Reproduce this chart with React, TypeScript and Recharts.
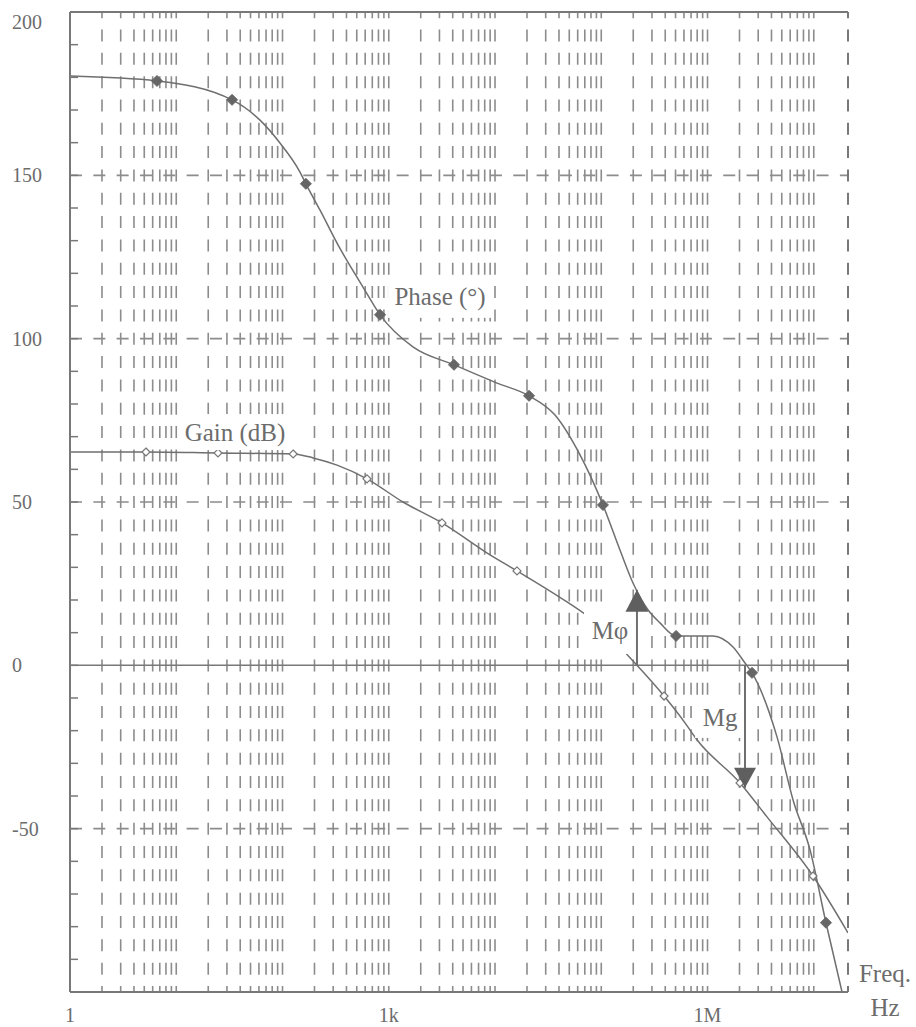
import React from 'react';
import { ComposedChart, Line, Scatter, XAxis, YAxis, ReferenceLine, ReferenceDot } from 'recharts';

// ---- data (frequency in Hz, phase in degrees, gain in dB) ----
const phaseFreq = [1, 6.59, 33.5, 61.4, 94.6, 146, 166, 225, 333, 572, 828, 1690, 4110, 10450, 20900, 36700, 63100, 103700, 150000, 199000, 275000, 357000, 506000, 1127000, 1738000, 2254000, 2624000, 4508000, 6383000, 9226000, 13030000, 18450000];
const phaseDeg = [180.4, 178.9, 173.1, 166.9, 159.9, 151.0, 147.4, 139.4, 128.7, 115.8, 107.3, 97.5, 92.0, 86.4, 82.5, 76.6, 64.4, 49.1, 35.3, 25.2, 17.0, 13.0, 9.0, 9.0, 5.6, 0.7, -2.3, -21.9, -41.2, -56.5, -78.8, -100];
const phaseMarkFreq = [6.59, 33.5, 166, 828, 4110, 20900, 103700, 506000, 2624000, 13030000];
const phaseMarkDeg = [178.9, 173.1, 147.4, 107.3, 92.0, 82.5, 49.1, 9.0, -2.3, -78.8];

const gainFreq = [1, 5.19, 24.7, 126, 194, 326, 624, 1360, 3170, 8970, 16100, 47600, 78300, 216800, 390000, 614000, 796000, 2023000, 3631000, 9840000, 21000000];
const gainDb = [65.3, 65.3, 65.0, 64.7, 63.5, 61.3, 57.1, 50.0, 43.6, 33.8, 28.9, 19.4, 14.5, 0, -9.4, -17.6, -22.8, -36.0, -46.4, -64.5, -81.9];
const gainMarkFreq = [5.19, 24.7, 126, 624, 3170, 16100, 390000, 2023000, 9840000];
const gainMarkDb = [65.3, 65.0, 64.7, 57.1, 43.6, 28.9, -9.4, -36.0, -64.5];

// ---- axes ----
const X_MIN = 1;
const X_MAX = 2.1e7;
const xTicks = [1, 1000, 1000000];
const xTickLabels: Record<number, string> = { 1: '1', 1000: '1k', 1000000: '1M' };
const yTicks = [-100, -90, -80, -70, -60, -50, -40, -30, -20, -10, 0, 10, 20, 30, 40, 50, 60, 70, 80, 90, 100, 110, 120, 130, 140, 150, 160, 170, 180, 190, 200];
const yLabelValues = [200, 150, 100, 50, 0, -50];
const dashedLevels = [150, 100, 50, -50];
const gridDecades = [1, 10, 100, 1000, 10000, 100000, 1000000];
const gridMultipliers = [2, 3, 4, 5, 6, 7, 8, 9, 10];

// ---- annotations ----
const textLabels = [
  { text: 'Phase (°)', f: 3040, v: 112.8, w: 104, h: 42 },
  { text: 'Gain (dB)', f: 35.7, v: 71.4, w: 112, h: 36 },
  { text: 'Mφ', f: 120800, v: 10.8, w: 52, h: 48 },
  { text: 'Mg', f: 1312000, v: -16.1, w: 50, h: 40 },
];
const marginArrows = [
  { f: 216800, from: 0, to: 23.1, dir: 'up' },
  { f: 2254000, from: 0, to: -37.5, dir: 'down' },
];

const phaseData = phaseFreq.map((f, i) => ({ f, v: phaseDeg[i] }));
const phaseMarks = phaseMarkFreq.map((f, i) => ({ f, v: phaseMarkDeg[i] }));
const gainData = gainFreq.map((f, i) => ({ f, v: gainDb[i] }));
const gainMarks = gainMarkFreq.map((f, i) => ({ f, v: gainMarkDb[i] }));
const gridValues: number[] = [];
gridDecades.forEach((d) => gridMultipliers.forEach((m) => gridValues.push(d * m)));

const FONT = "'Liberation Serif', 'Times New Roman', serif";
const TEXT = '#6c6c6c';
const GRID = '#8c8c8c';
const FRAME = '#787878';
const CURVE = '#6f6f6f';

const YTick = (props: any) => {
  const { x, y, payload } = props;
  const v = payload.value;
  const show = yLabelValues.includes(v);
  return (
    <g>
      <line x1={x} x2={x + 8} y1={y} y2={y} stroke={FRAME} strokeWidth={1.5} />
      {show && (
        <text x={x - 58} y={v === 200 ? y + 10 : y} dominantBaseline="central" textAnchor="start"
          fontFamily={FONT} fontSize={20} fill={TEXT}>{v}</text>
      )}
    </g>
  );
};

const XTick = (props: any) => {
  const { x, y, payload } = props;
  return (
    <text x={x} y={y + 23} dominantBaseline="central" textAnchor="middle" fontFamily={FONT} fontSize={20} fill={TEXT}>
      {xTickLabels[payload.value]}
    </text>
  );
};

const FreqLabel = (props: any) => {
  const vb = props.viewBox || {};
  const cx = vb.x + vb.width + 37;
  return (
    <g>
      <text x={cx} y={vb.y - 19} textAnchor="middle" dominantBaseline="central" fontFamily={FONT} fontSize={25} fill={TEXT}>Freq.</text>
      <text x={cx} y={vb.y + 15} textAnchor="middle" dominantBaseline="central" fontFamily={FONT} fontSize={25} fill={TEXT}>Hz</text>
    </g>
  );
};

const phaseMarker = (p: any) => (
  <polygon points={`${p.cx},${p.cy - 5.5} ${p.cx + 5.5},${p.cy} ${p.cx},${p.cy + 5.5} ${p.cx - 5.5},${p.cy}`} fill="#666" stroke="#666" strokeWidth={1} />
);
const gainMarker = (p: any) => (
  <polygon points={`${p.cx},${p.cy - 4} ${p.cx + 4},${p.cy} ${p.cx},${p.cy + 4} ${p.cx - 4},${p.cy}`} fill="#fff" stroke="#777" strokeWidth={1.2} />
);

export default function App() {
  return (
    <div style={{ position: 'absolute', left: 0, top: 0, width: 916, height: 1027, background: '#fff' }}>
      <ComposedChart width={916} height={1027} margin={{ top: 12, right: 68, bottom: 0, left: 10 }}>
        <XAxis dataKey="f" type="number" scale="log" domain={[X_MIN, X_MAX]} allowDataOverflow
          ticks={xTicks} interval={0} tickSize={0} tickMargin={0} tick={<XTick />} height={35}
          axisLine={{ stroke: FRAME, strokeWidth: 2 }} tickLine={false} label={<FreqLabel />} />
        <YAxis type="number" domain={[-100, 200]} allowDataOverflow ticks={yTicks} interval={0}
          tickSize={0} tickMargin={0} tick={<YTick />} width={60}
          axisLine={{ stroke: FRAME, strokeWidth: 2 }} tickLine={false} />

        {gridValues.map((g) => (
          <ReferenceLine key={'vg' + g} x={g} stroke={GRID} strokeWidth={1.6} strokeDasharray="12 11.33" strokeDashoffset={6} zIndex={-50} />
        ))}
        {dashedLevels.map((l) => (
          <ReferenceLine key={'hg' + l} y={l} stroke={GRID} strokeWidth={1.6} strokeDasharray="12 11.33" zIndex={-50} />
        ))}
        <ReferenceLine y={0} stroke={FRAME} strokeWidth={1.5} zIndex={-40} />
        <ReferenceLine y={200} stroke={FRAME} strokeWidth={2} zIndex={-40} />
        <ReferenceLine x={X_MAX} stroke={FRAME} strokeWidth={2} strokeDasharray="12 11.33" strokeDashoffset={6} zIndex={-40} />

        <Line data={gainData} dataKey="v" type="monotone" stroke={CURVE} strokeWidth={1.5} dot={false} activeDot={false} isAnimationActive={false} />
        <Line data={phaseData} dataKey="v" type="monotone" stroke={CURVE} strokeWidth={1.5} dot={false} activeDot={false} isAnimationActive={false} />
        <Scatter data={gainMarks} dataKey="v" shape={gainMarker} isAnimationActive={false} />
        <Scatter data={phaseMarks} dataKey="v" shape={phaseMarker} isAnimationActive={false} />

        {textLabels.map((l) => (
          <ReferenceDot key={l.text} x={l.f} y={l.v} zIndex={700}
            shape={(p: any) => (
              <g>
                <rect x={p.cx - l.w / 2} y={p.cy - l.h / 2} width={l.w} height={l.h} fill="#fff" />
                <text x={p.cx} y={p.cy} textAnchor="middle" dominantBaseline="central" fontFamily={FONT} fontSize={25} fill={TEXT}>{l.text}</text>
              </g>
            )} />
        ))}

        {marginArrows.map((a) => (
          <ReferenceLine key={'al' + a.f} segment={[{ x: a.f, y: a.from }, { x: a.f, y: a.to }]} stroke={CURVE} strokeWidth={2} zIndex={800} />
        ))}
        {marginArrows.map((a) => (
          <ReferenceDot key={'at' + a.f} x={a.f} y={a.to} zIndex={800}
            shape={(p: any) => (
              a.dir === 'up'
                ? <polygon points={`${p.cx},${p.cy} ${p.cx - 11.5},${p.cy + 22} ${p.cx + 11.5},${p.cy + 22}`} fill="#5f5f5f" />
                : <polygon points={`${p.cx},${p.cy} ${p.cx - 11},${p.cy - 20} ${p.cx + 11},${p.cy - 20}`} fill="#5f5f5f" />
            )} />
        ))}
      </ComposedChart>
    </div>
  );
}
